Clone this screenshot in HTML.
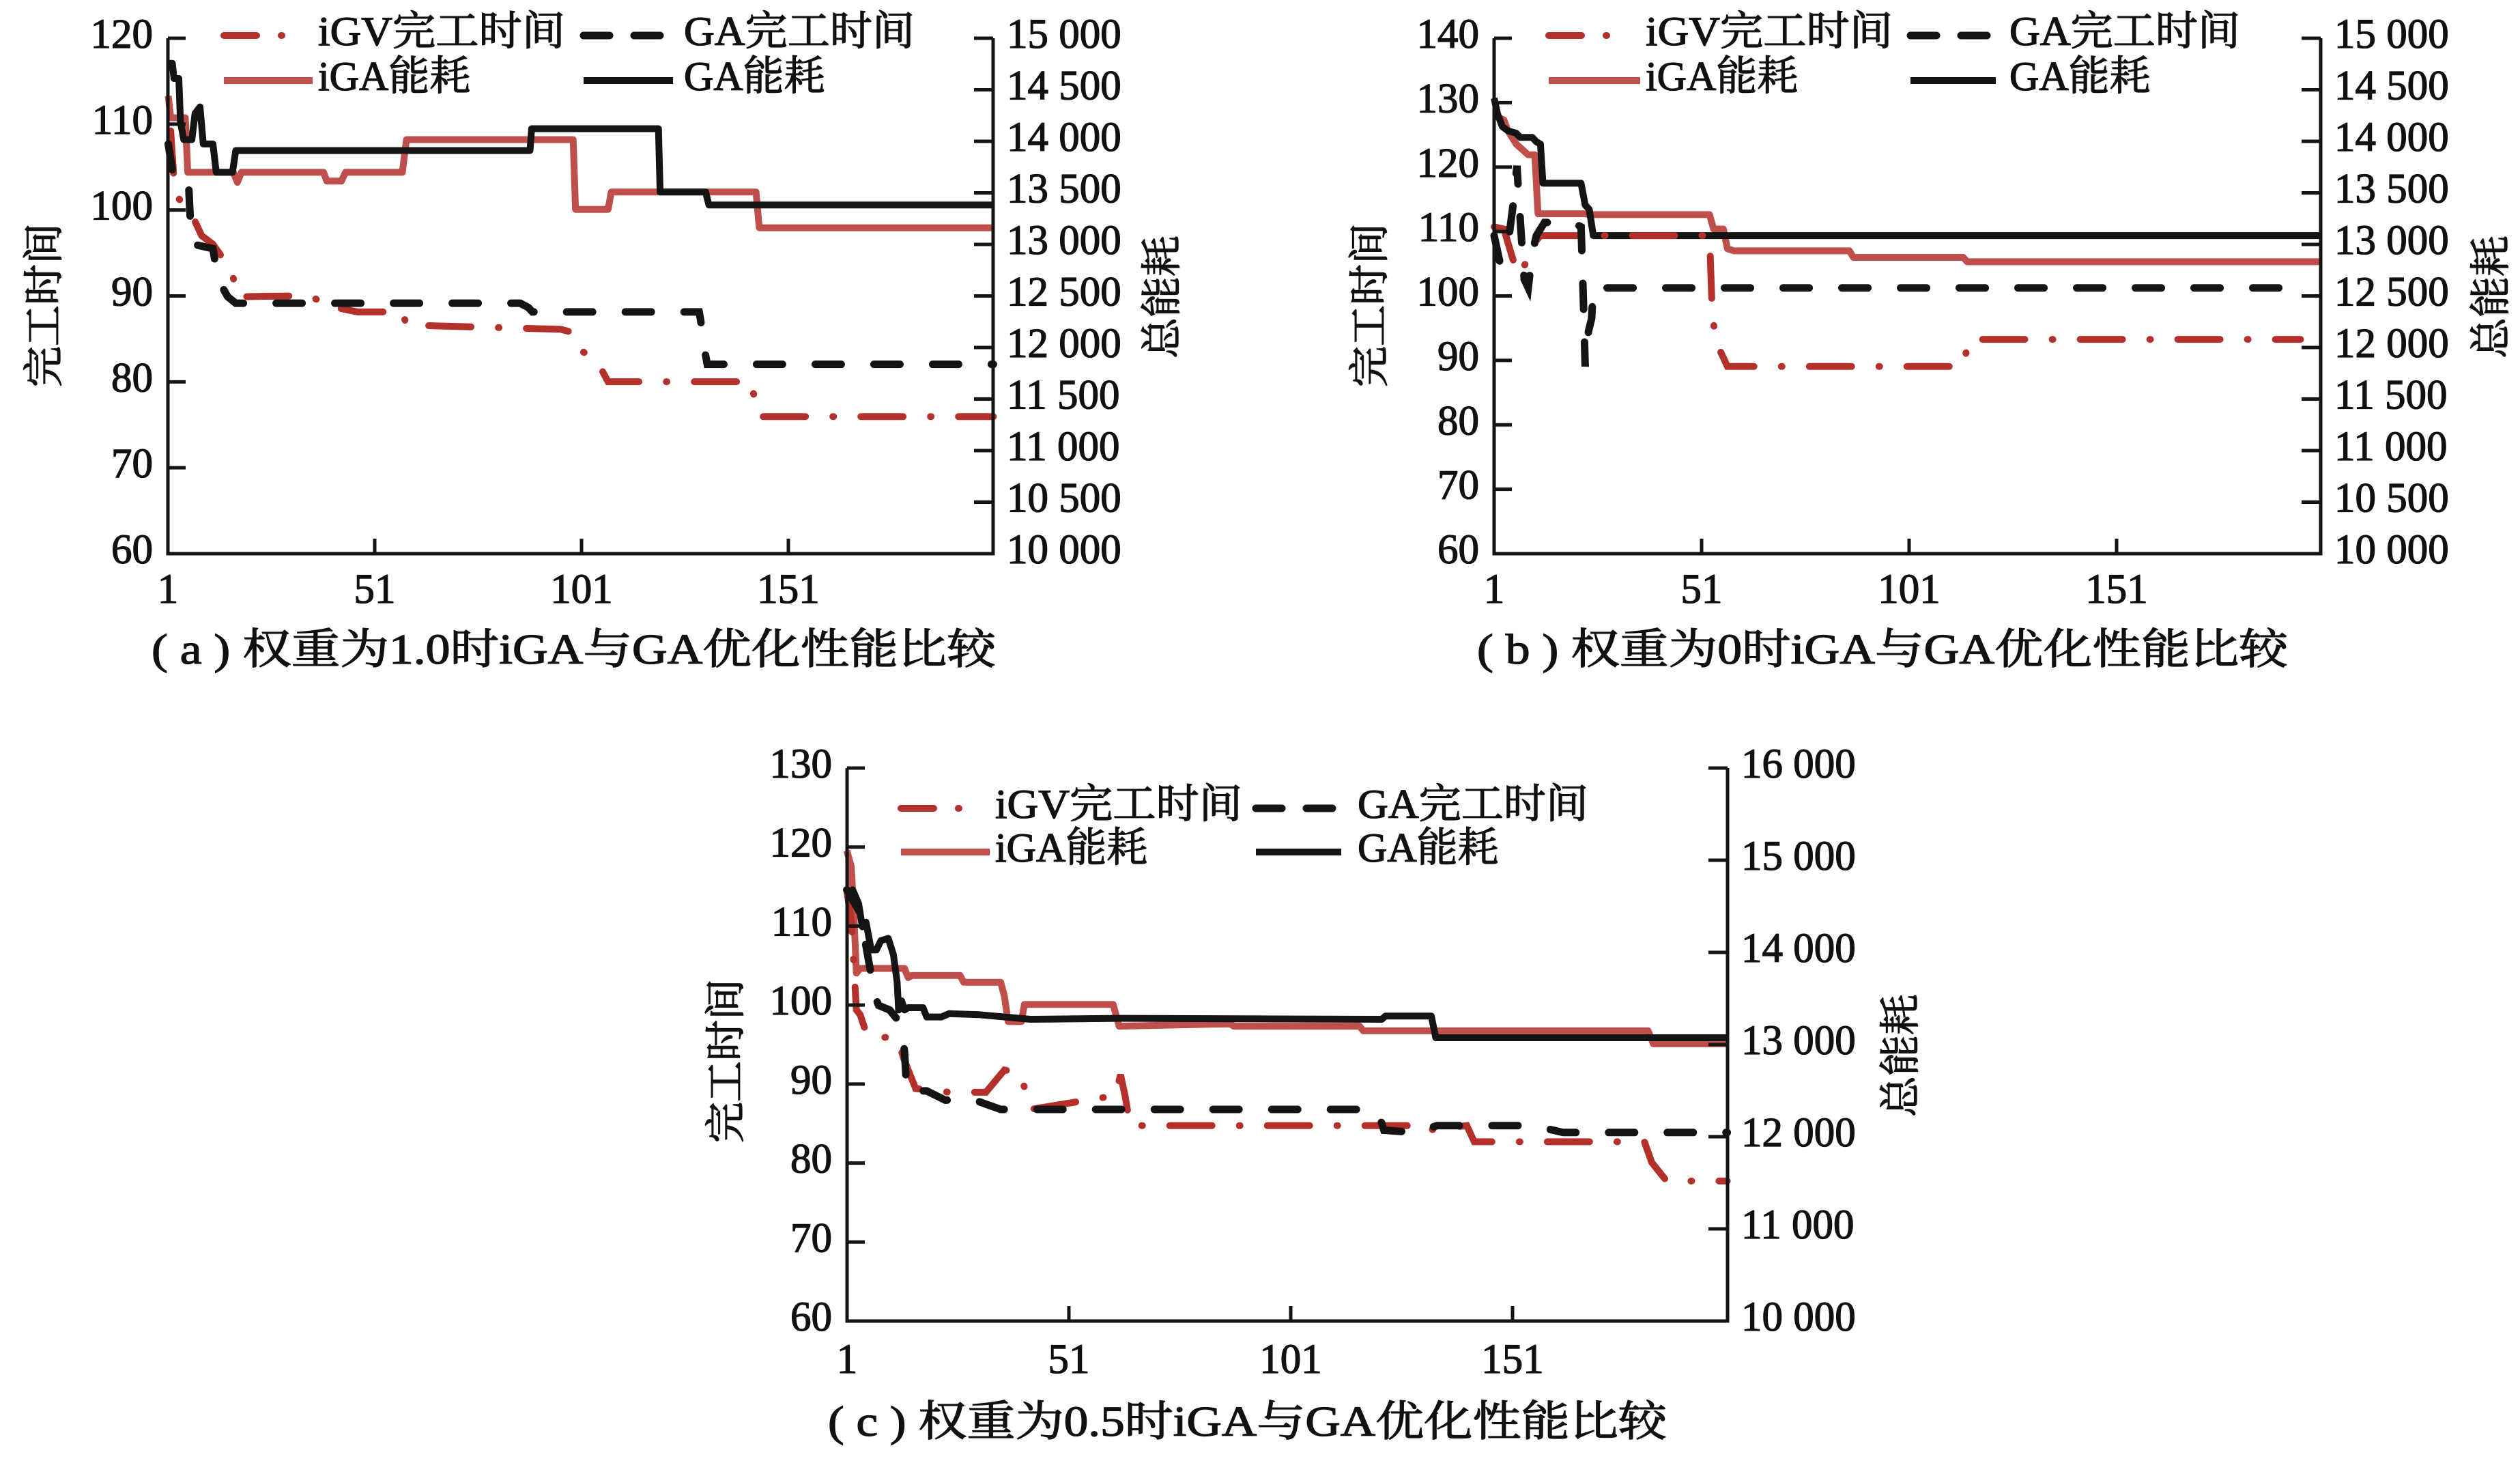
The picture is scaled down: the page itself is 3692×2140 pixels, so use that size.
<!DOCTYPE html>
<html><head><meta charset="utf-8"><style>
html,body{margin:0;padding:0;background:#fff;width:3692px;height:2140px;overflow:hidden}
svg text{font-family:"Liberation Serif","Noto Serif CJK SC","Noto Sans CJK SC",serif;fill:#111;stroke:#111;stroke-width:1.3}
</style></head><body>
<svg id="s" width="3692" height="2140" viewBox="0 0 3692 2140" xmlns="http://www.w3.org/2000/svg"></svg>
<script>
const S=document.getElementById('s');const NS='http://www.w3.org/2000/svg';
function el(t,a,txt){const e=document.createElementNS(NS,t);for(const k in a)e.setAttribute(k,a[k]);if(txt!=null)e.textContent=txt;S.appendChild(e);return e;}
const RED='#bf4f4a',RED2='#b3302b',BLK='#141414';
const ST={
 ga:{stroke:BLK,'stroke-width':10,fill:'none','stroke-linejoin':'round'},
 iga:{stroke:RED,'stroke-width':10,fill:'none','stroke-linejoin':'round'},
 gad:{stroke:BLK,'stroke-width':11,fill:'none','stroke-dasharray':'38 48','stroke-linecap':'round'},
 igv:{stroke:RED2,'stroke-width':10,fill:'none','stroke-dasharray':'62 40 1 40','stroke-linecap':'round'}
};
function poly(pts,m,st){const p=pts.map(q=>(m.ox+m.sx*q[0]).toFixed(1)+','+(m.oy+m.sy*q[1]).toFixed(1)).join(' ');el('polyline',Object.assign({points:p},ST[st]));}
function chart(c){
 el('polyline',{points:`${c.L},${c.T} ${c.L},${c.B} ${c.R},${c.B} ${c.R},${c.T}`,fill:'none',stroke:BLK,'stroke-width':5});
 const n=c.ly.length-1;
 c.ly.forEach((v,i)=>{const y=c.B-(c.B-c.T)*i/n;el('line',{x1:c.L,x2:c.L+26,y1:y,y2:y,stroke:BLK,'stroke-width':5});
  el('text',{x:c.L-22,y:y,'font-size':61,'text-anchor':'end','dominant-baseline':'middle'},v);});
 const m=c.ry.length-1;
 c.ry.forEach((v,i)=>{const y=c.B-(c.B-c.T)*i/m;el('line',{x1:c.R-28,x2:c.R,y1:y,y2:y,stroke:BLK,'stroke-width':5});
  el('text',{x:c.R+20,y:y,'font-size':61,'dominant-baseline':'middle'},v);});
 [1,51,101,151].forEach(v=>{const x=c.L+c.dx*(v-1);if(v>1)el('line',{x1:x,x2:x,y1:c.B,y2:c.B-22,stroke:BLK,'stroke-width':5});
  el('text',{x:x,y:c.xl,'font-size':61,'text-anchor':'middle','dominant-baseline':'middle'},v);});
 el('text',{x:0,y:0,'font-size':60,'text-anchor':'middle','dominant-baseline':'middle',transform:`translate(${c.yt[0]},${c.yt[1]}) rotate(-90)`},'完工时间');
 el('text',{x:0,y:0,'font-size':60,'text-anchor':'middle','dominant-baseline':'middle',transform:`translate(${c.rt[0]},${c.rt[1]}) rotate(-90)`},'总能耗');
 el('text',{x:c.cap[0],y:c.cap[1],'font-size':62,'dominant-baseline':'middle',textLength:c.cap[2],lengthAdjust:'spacingAndGlyphs'},c.cap[3]);
 const g=c.lg;
 el('line',Object.assign({x1:g.x1,x2:g.x1+g.w1,y1:g.y1,y2:g.y1},ST.igv,{'stroke-dasharray':'48 36 1 60'}));
 el('text',{x:g.t1,y:g.y1,'font-size':60,'dominant-baseline':'middle',textLength:g.l1,lengthAdjust:'spacingAndGlyphs'},'iGV完工时间');
 el('line',Object.assign({x1:g.x2,x2:g.x2+g.w2,y1:g.y1,y2:g.y1},ST.gad,{'stroke-dasharray':'38 36'}));
 el('text',{x:g.t2,y:g.y1,'font-size':60,'dominant-baseline':'middle',textLength:g.l2,lengthAdjust:'spacingAndGlyphs'},'GA完工时间');
 el('line',Object.assign({x1:g.x1,x2:g.t1-8,y1:g.y2,y2:g.y2},ST.iga));
 el('text',{x:g.t1,y:g.y2,'font-size':60,'dominant-baseline':'middle'},'iGA能耗');
 el('line',Object.assign({x1:g.x2,x2:g.x2+g.w2,y1:g.y2,y2:g.y2},ST.ga));
 el('text',{x:g.t2,y:g.y2,'font-size':60,'dominant-baseline':'middle'},'GA能耗');
}
const ry5=['10 000','10 500','11 000','11 500','12 000','12 500','13 000','13 500','14 000','14 500','15 000'];
const A={L:246,R:1455,T:56,B:811,dx:6.06,ly:[60,70,80,90,100,110,120],ry:ry5,xl:869,yt:[71,447],rt:[1709,435],
 cap:[222,958,1237,'( a ) 权重为1.0时iGA与GA优化性能比较'],lg:{x1:328,w1:95,t1:466,l1:362,x2:855,w2:131,t2:1002,l2:338,y1:52,y2:118}};
const mA={ox:0,oy:0,sx:1.191,sy:0.639};
const B={L:2189,R:3400,T:56,B:811,dx:6.08,ly:[60,70,80,90,100,110,120,130,140],ry:ry5,xl:869,yt:[2013,447],rt:[3656,435],
 cap:[2164,958,1188,'( b ) 权重为0时iGA与GA优化性能比较'],lg:{x1:2269,w1:95,t1:2411,l1:362,x2:2799,w2:125,t2:2944,l2:338,y1:52,y2:118}};
const mB={ox:1846,oy:0,sx:1.191,sy:0.639};
const C={L:1241,R:2531,T:1125,B:1935,dx:6.5,ly:[60,70,80,90,100,110,120,130],ry:['10 000','11 000','12 000','13 000','14 000','15 000','16 000'],xl:1997,yt:[1070,1554],rt:[2791,1546],
 cap:[1213,2089,1229,'( c ) 权重为0.5时iGA与GA优化性能比较'],lg:{x1:1320,w1:92,t1:1458,l1:362,x2:1840,w2:125,t2:1989,l2:338,y1:1184,y2:1248}};
const mC={ox:1000,oy:1080,sx:1.084,sy:0.677};

poly([[207,220],[210,270],[228,270],[231,395],[287,395],[292,418],[297,395],[398,395],[402,415],[420,415],[425,395],[495,395],[500,320],[705,320],[708,480],[748,480],[752,440],[930,440],[934,522],[1222,522]],mA,'iga');
poly([[207,145],[212,145],[214,180],[220,180],[222,280],[226,320],[236,320],[240,260],[246,245],[250,330],[262,330],[266,395],[286,395],[290,345],[652,345],[654,295],[810,295],[812,440],[868,440],[872,470],[1222,470]],mA,'ga');
poly([[210,300],[215,440],[225,470],[238,500],[248,540],[262,560],[285,620],[292,680],[300,680],[378,678],[395,690],[400,700],[440,715],[495,715],[500,745],[690,755],[700,760],[705,790],[735,830],[748,875],[925,875],[930,945],[935,955],[1222,955]],mA,'igv');
poly([[207,330],[212,390],[218,420],[232,420],[234,500],[238,560],[262,570],[268,640],[280,680],[290,695],[640,695],[650,705],[655,715],[860,715],[862,735],[866,795],[870,835],[1222,835]],mA,'gad');
poly([[288,265],[300,275],[305,300],[315,330],[330,355],[338,355],[342,490],[400,490],[405,492],[553,492],[558,525],[570,525],[575,570],[583,575],[725,575],[730,590],[865,590],[870,600],[1305,600]],mB,'iga');
poly([[288,225],[292,260],[298,290],[305,300],[315,305],[320,315],[335,315],[340,325],[345,330],[348,420],[395,420],[400,470],[405,480],[410,540],[1305,540]],mB,'ga');
poly([[288,520],[300,525],[312,600],[320,630],[330,590],[336,560],[345,540],[553,540],[556,700],[560,780],[575,840],[865,840],[872,778],[1280,778]],mB,'igv');
poly([[288,540],[295,600],[305,560],[312,460],[316,380],[320,500],[325,640],[330,660],[335,580],[340,540],[350,510],[385,510],[395,520],[398,700],[400,840],[404,760],[408,730],[410,660],[1280,660]],mB,'gad');
poly([[222,245],[228,280],[232,400],[235,510],[240,500],[300,500],[305,520],[310,515],[375,515],[380,530],[430,530],[435,560],[440,615],[458,615],[462,578],[582,578],[590,625],[740,620],[745,625],[915,625],[920,635],[1305,635],[1312,663],[1412,663]],mC,'iga');
poly([[222,350],[230,330],[238,360],[243,410],[248,400],[255,460],[262,460],[268,440],[278,435],[285,470],[290,530],[292,590],[296,570],[300,590],[305,585],[325,585],[330,605],[350,605],[360,598],[400,600],[470,610],[590,608],[945,610],[950,603],[1012,603],[1018,650],[1412,650]],mC,'ga');
poly([[222,330],[228,400],[235,590],[240,600],[250,648],[290,650],[300,700],[315,760],[360,768],[410,768],[435,720],[455,725],[460,745],[470,805],[585,775],[592,730],[598,775],[605,840],[1000,840],[1005,850],[1060,840],[1070,875],[1300,875],[1310,920],[1330,960],[1412,960]],mC,'igv');
poly([[222,330],[240,380],[260,560],[265,580],[280,590],[295,620],[300,680],[303,765],[330,765],[355,785],[395,785],[430,805],[935,805],[945,835],[948,850],[990,855],[1020,840],[1150,840],[1190,855],[1412,855]],mC,'gad');
chart(A);chart(B);chart(C);
</script>
</body></html>
